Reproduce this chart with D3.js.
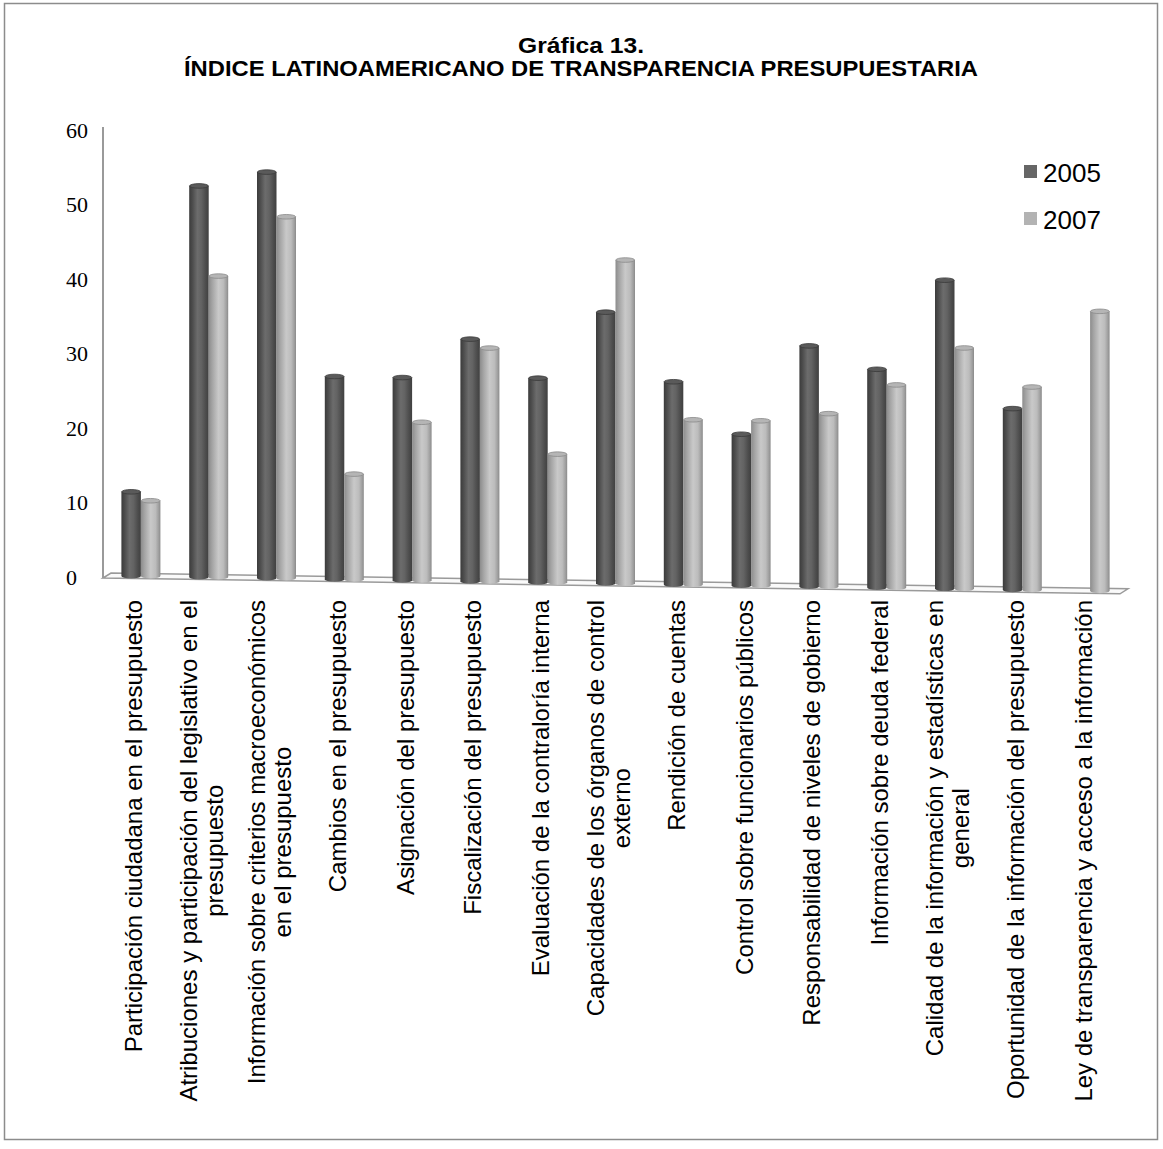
<!DOCTYPE html>
<html><head><meta charset="utf-8">
<script src="https://cdn.jsdelivr.net/npm/d3@7"></script>
<style>body{margin:0;background:#fff}</style>
</head><body>
<script>
const categories = [
 "Participación ciudadana en el presupuesto",
 "Atribuciones y participación del legislativo en el\npresupuesto",
 "Información sobre criterios macroeconómicos\nen el presupuesto",
 "Cambios en el presupuesto",
 "Asignación del presupuesto",
 "Fiscalización del presupuesto",
 "Evaluación de la contraloría interna",
 "Capacidades de los órganos de control\nexterno",
 "Rendición de cuentas",
 "Control sobre funcionarios públicos",
 "Responsabilidad de niveles de gobierno",
 "Información sobre deuda federal",
 "Calidad de la información y estadísticas en\ngeneral",
 "Oportunidad de la información del presupuesto",
 "Ley de transparencia y acceso a la información"
];
const seriesNames = ["2005", "2007"];
const values2005 = [11.3, 52.5, 54.5, 27.2, 27.2, 32.5, 27.4, 36.4, 27.2, 20.3, 32.3, 29.3, 41.4, 24.3, null];
const values2007 = [10.1, 40.4, 48.5, 14.1, 21.2, 31.3, 17.2, 43.4, 22.1, 22.1, 23.2, 27.2, 32.3, 27.2, 37.5];
const yTicks = [0, 10, 20, 30, 40, 50, 60];
const titleLines = ["Gráfica 13.", "ÍNDICE LATINOAMERICANO DE TRANSPARENCIA PRESUPUESTARIA"];

const W = 1163, H = 1149;
const svg = d3.select("body").append("svg").attr("width", W).attr("height", H);

// frame
svg.append("rect").attr("x", 4.5).attr("y", 3.5).attr("width", 1153).attr("height", 1136)
  .attr("fill", "#fff").attr("stroke", "#8c8c8c").attr("stroke-width", 1.5);

// title (condensed bold look)
const titleWidths = [126, 794];
svg.append("g").selectAll("text").data(titleLines).join("text")
  .attr("x", 581).attr("y", (d, i) => 53 + i * 23)
  .attr("text-anchor", "middle")
  .attr("font-family", "Liberation Sans, Arial, sans-serif")
  .attr("font-weight", "bold").attr("font-size", 22)
  .attr("textLength", (d, i) => titleWidths[i])
  .attr("lengthAdjust", "spacingAndGlyphs")
  .text(d => d);

// scales
const y = d3.scaleLinear().domain([0, 60]).range([577, 130]);
const x = d3.scaleBand().domain(d3.range(categories.length)).range([107, 1124]).paddingInner(0).paddingOuter(0);
const xs = d3.scaleBand().domain(seriesNames).range([-19.5, 19.5]);
const slope = 0.0155;
const floorY = cx => 576 + (cx - 141) * slope;

// gradients
const defs = svg.append("defs");
const gradSpecs = {
  "2005": [[0, "#3b3b3b"], [0.18, "#4e4e4e"], [0.42, "#6c6c6c"], [0.62, "#636363"], [0.85, "#4c4c4c"], [1, "#404040"]],
  "2007": [[0, "#8c8c8c"], [0.18, "#a4a4a4"], [0.5, "#c9c9c9"], [0.75, "#bcbcbc"], [0.92, "#9d9d9d"], [1, "#8a8a8a"]]
};
Object.entries(gradSpecs).forEach(([k, stops]) => {
  const g = defs.append("linearGradient").attr("id", "g" + k).attr("x1", 0).attr("x2", 1).attr("y1", 0).attr("y2", 0);
  stops.forEach(([o, c]) => g.append("stop").attr("offset", o).attr("stop-color", c));
});
const capFill = {"2005": "#5a5a5a", "2007": "#b5b5b5"};
const capStroke = {"2005": "#3a3a3a", "2007": "#8a8a8a"};
const legendColor = {"2005": "#666666", "2007": "#b3b3b3"};

// floor (parallelogram)
const fx0 = 103, fx1 = 1120;
const floorPts = [
  [fx0, 578], [fx0 + 8, 573], [fx1 + 8, 573 + (fx1 - fx0) * slope], [fx1, 578 + (fx1 - fx0) * slope]
];
svg.append("path").attr("d", d3.line()(floorPts) + "Z")
  .attr("fill", "#fafafa").attr("stroke", "#9a9a9a").attr("stroke-width", 1.5);

// axis line
svg.append("line").attr("x1", 103).attr("x2", 103).attr("y1", 127).attr("y2", 578)
  .attr("stroke", "#9a9a9a").attr("stroke-width", 2);

// y tick labels
const yAxis = d3.axisLeft(y).tickValues(yTicks).tickSize(0).tickPadding(0);
const ga = svg.append("g").attr("transform", "translate(66,0)").call(yAxis);
ga.select(".domain").remove();
ga.selectAll("text").attr("text-anchor", "start")
  .attr("font-family", "Liberation Serif, Times New Roman, serif").attr("font-size", 22).attr("fill", "#000");

// bars
const data = [];
categories.forEach((c, i) => {
  [[seriesNames[0], values2005[i]], [seriesNames[1], values2007[i]]].forEach(([s, v]) => {
    if (v != null) data.push({i, s, v});
  });
});
const bw = xs.bandwidth();
const bars = svg.append("g").selectAll("g").data(data).join("g");
bars.each(function(d) {
  const g = d3.select(this);
  const cx = x(d.i) + x.bandwidth() / 2;
  const x0 = cx + xs(d.s);
  const bot = floorY(cx);
  const top = bot - (y(0) - y(d.v));
  g.append("path")
    .attr("d", `M${x0},${top} L${x0},${bot} A${bw/2},2.5 0 0 0 ${x0+bw},${bot} L${x0+bw},${top} Z`)
    .attr("fill", `url(#g${d.s})`);
  g.append("ellipse").attr("cx", x0 + bw / 2).attr("cy", top).attr("rx", bw / 2 - 0.3).attr("ry", 2.3)
    .attr("fill", capFill[d.s]).attr("stroke", capStroke[d.s]).attr("stroke-width", 0.8);
});

// category labels (rotated, block anchored at top, lines centered within block)
const lab = svg.append("g").selectAll("g").data(categories).join("g")
  .attr("transform", (d, i) => `translate(${x(i) + x.bandwidth() / 2 - 7},600) rotate(-90)`);
lab.each(function(d) {
  const lines = d.split("\n");
  const n = lines.length;
  const sel = d3.select(this);
  const texts = sel.selectAll("text").data(lines).join("text")
    .attr("y", (l, j) => (j - (n - 1) / 2) * 26)
    .attr("dy", "0.35em")
    .attr("text-anchor", "middle")
    .attr("font-family", "Liberation Sans, Arial, sans-serif").attr("font-size", 24)
    .text(l => l);
  let maxLen = 0;
  texts.each(function() { maxLen = Math.max(maxLen, this.getComputedTextLength()); });
  texts.attr("x", -maxLen / 2);
});

// legend
const leg = svg.append("g").selectAll("g").data(seriesNames).join("g")
  .attr("transform", (d, i) => `translate(1024,${165 + i * 47})`);
leg.append("rect").attr("width", 13).attr("height", 13).attr("fill", d => legendColor[d]);
leg.append("text").attr("x", 19).attr("y", 17).attr("font-family", "Liberation Sans, Arial, sans-serif")
  .attr("font-size", 26).text(d => d);
</script>
</body></html>
